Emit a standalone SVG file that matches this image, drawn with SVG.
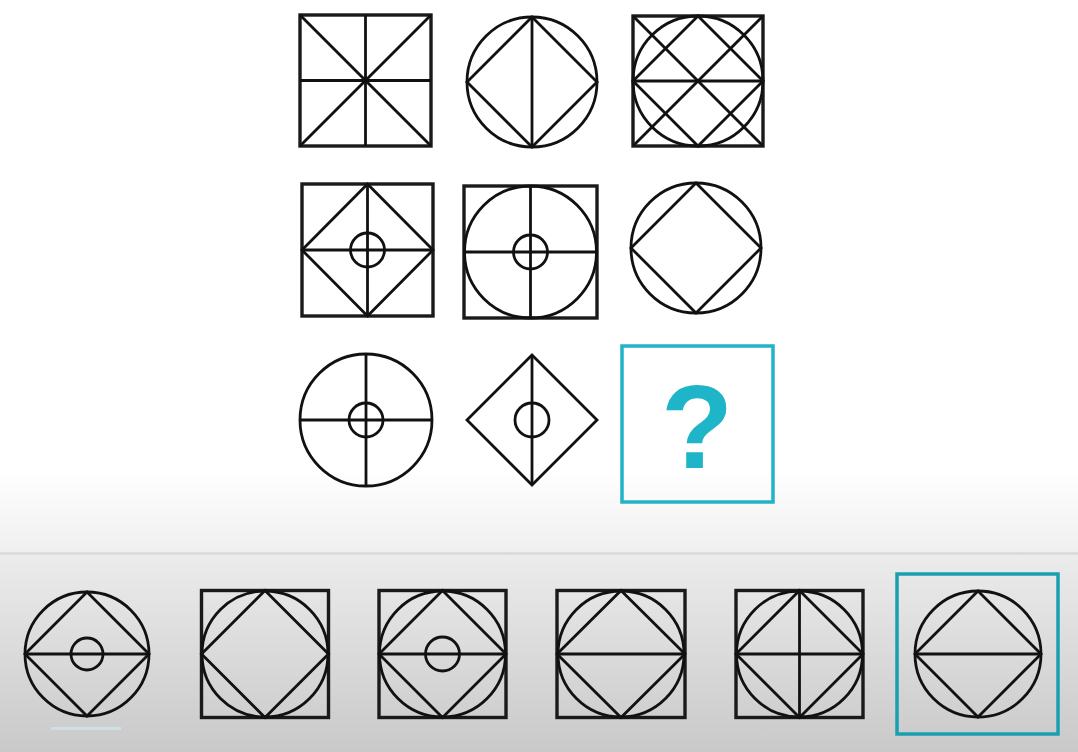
<svg xmlns="http://www.w3.org/2000/svg" width="1078" height="752" viewBox="0 0 1078 752">
  <defs>
    <linearGradient id="topfade" x1="0" y1="0" x2="0" y2="1">
      <stop offset="0" stop-color="#ffffff"/>
      <stop offset="1" stop-color="#efefef"/>
    </linearGradient>
    <linearGradient id="panel" x1="0" y1="0" x2="0" y2="1">
      <stop offset="0" stop-color="#ececec"/>
      <stop offset="1" stop-color="#c9c9c9"/>
    </linearGradient>
    <style>
      .f { fill: none; stroke: #111; stroke-width: 2.8; }
      .sq { fill: none; stroke: #1a1a1a; stroke-width: 3.4; }
      .teal { fill: none; stroke: #22b3c6; stroke-width: 3.5; }
      .teal2 { fill: none; stroke: #1a9fb0; stroke-width: 3.5; }
      .q { font-family: "Liberation Sans", Arial, sans-serif; font-weight: bold; font-size: 118px; fill: #1fb5c9; }
    </style>
  </defs>

  <rect x="0" y="0" width="1078" height="752" fill="#ffffff"/>
  <rect x="0" y="470" width="1078" height="84" fill="url(#topfade)"/>
  <rect x="0" y="554" width="1078" height="198" fill="url(#panel)"/>
  <rect x="0" y="552" width="1078" height="3" fill="#dcdcdc"/>

  <!-- Row 1 -->
  <g id="a1">
    <rect class="sq" x="300" y="15" width="131" height="131"/>
    <line class="f" x1="365.5" y1="15" x2="365.5" y2="146"/>
    <line class="f" x1="300" y1="80.5" x2="431" y2="80.5"/>
    <line class="f" x1="300" y1="15" x2="431" y2="146"/>
    <line class="f" x1="431" y1="15" x2="300" y2="146"/>
  </g>
  <g id="a2">
    <circle class="f" cx="532" cy="82" r="65"/>
    <polygon class="f" points="532,17 597,82 532,147 467,82"/>
    <line class="f" x1="532" y1="17" x2="532" y2="147"/>
  </g>
  <g id="a3">
    <rect class="sq" x="633" y="16" width="130" height="130"/>
    <circle class="f" cx="698" cy="81" r="65"/>
    <polygon class="f" points="698,16 763,81 698,146 633,81"/>
    <line class="f" x1="633" y1="16" x2="763" y2="146"/>
    <line class="f" x1="763" y1="16" x2="633" y2="146"/>
    <line class="f" x1="633" y1="81" x2="763" y2="81"/>
  </g>

  <!-- Row 2 -->
  <g id="b1">
    <rect class="sq" x="302" y="184" width="131" height="132"/>
    <polygon class="f" points="367.5,184 433,250 367.5,316 302,250"/>
    <line class="f" x1="367.5" y1="184" x2="367.5" y2="316"/>
    <line class="f" x1="302" y1="250" x2="433" y2="250"/>
    <circle class="f" cx="367.5" cy="250" r="17"/>
  </g>
  <g id="b2">
    <rect class="sq" x="464" y="186" width="133" height="132"/>
    <circle class="f" cx="530.5" cy="252" r="66"/>
    <line class="f" x1="530.5" y1="186" x2="530.5" y2="318"/>
    <line class="f" x1="464" y1="252" x2="597" y2="252"/>
    <circle class="f" cx="530.5" cy="252" r="17"/>
  </g>
  <g id="b3">
    <circle class="f" cx="696" cy="248" r="65"/>
    <polygon class="f" points="696,183 761,248 696,313 631,248"/>
  </g>

  <!-- Row 3 -->
  <g id="c1">
    <circle class="f" cx="366" cy="420" r="66"/>
    <line class="f" x1="366" y1="354" x2="366" y2="486"/>
    <line class="f" x1="300" y1="420" x2="432" y2="420"/>
    <circle class="f" cx="366" cy="420" r="17"/>
  </g>
  <g id="c2">
    <polygon class="f" points="532,355 597,420 532,485 467,420"/>
    <line class="f" x1="532" y1="355" x2="532" y2="485"/>
    <circle class="f" cx="532" cy="420" r="17"/>
  </g>
  <g id="c3">
    <rect class="teal" x="622" y="346" width="151" height="156"/>
    <text class="q" x="697" y="468" text-anchor="middle">?</text>
  </g>

  <!-- Options -->
  <g id="o1">
    <circle class="f" cx="87" cy="654" r="62"/>
    <polygon class="f" points="87,592 149,654 87,716 25,654"/>
    <line class="f" x1="25" y1="654" x2="149" y2="654"/>
    <circle class="f" cx="87" cy="654" r="16"/>
    <line x1="51" y1="728.5" x2="121" y2="728.5" stroke="#cfdfe3" stroke-width="3"/>
  </g>
  <g id="o2">
    <rect class="sq" x="201.5" y="590.5" width="127" height="127"/>
    <circle class="f" cx="265" cy="654" r="63"/>
    <polygon class="f" points="265,590.5 328.5,654 265,717.5 201.5,654"/>
  </g>
  <g id="o3">
    <rect class="sq" x="379" y="590.5" width="127" height="127"/>
    <circle class="f" cx="442.5" cy="654" r="63"/>
    <polygon class="f" points="442.5,590.5 506,654 442.5,717.5 379,654"/>
    <line class="f" x1="379" y1="654" x2="506" y2="654"/>
    <circle class="f" cx="442.5" cy="654" r="17"/>
  </g>
  <g id="o4">
    <rect class="sq" x="557" y="590.5" width="128" height="127"/>
    <circle class="f" cx="621" cy="654" r="63"/>
    <polygon class="f" points="621,590.5 685,654 621,717.5 557,654"/>
    <line class="f" x1="557" y1="654" x2="685" y2="654"/>
  </g>
  <g id="o5">
    <rect class="sq" x="736" y="590.5" width="127" height="127"/>
    <circle class="f" cx="799.5" cy="654" r="63"/>
    <polygon class="f" points="799.5,590.5 863,654 799.5,717.5 736,654"/>
    <line class="f" x1="736" y1="654" x2="863" y2="654"/>
    <line class="f" x1="799.5" y1="590.5" x2="799.5" y2="717.5"/>
  </g>
  <g id="o6">
    <rect class="teal2" x="897" y="574" width="161" height="160"/>
    <circle class="f" cx="978" cy="654" r="63"/>
    <polygon class="f" points="978,591 1041,654 978,717 915,654"/>
    <line class="f" x1="915" y1="654" x2="1041" y2="654"/>
  </g>

  <g id="connectors"></g>
</svg>
